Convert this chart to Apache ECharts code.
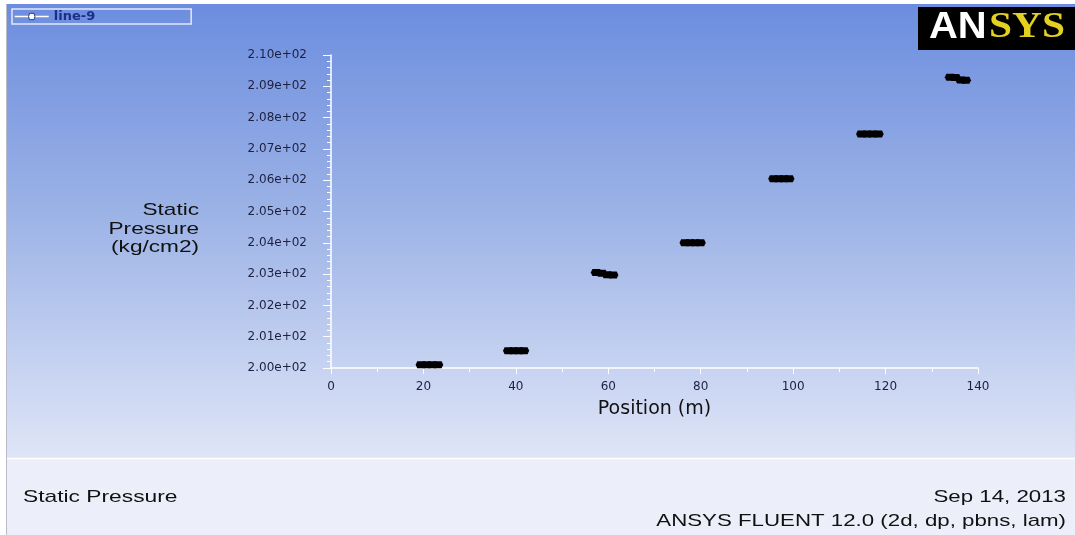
<!DOCTYPE html>
<html>
<head>
<meta charset="utf-8">
<script src="https://cdn.jsdelivr.net/npm/echarts@6/dist/echarts.min.js"></script>
<style>
  html, body { margin: 0; padding: 0; background: #ffffff; }
  #chart { width: 1075px; height: 535px; }
</style>
</head>
<body>
<div id="chart"></div>
<script>
// ---- Data ----
const seriesName = 'line-9';
const positions = [
  19.5, 20.7, 21.9, 23.1,
  38.4, 39.5, 40.6, 41.7,
  57.4, 58.6, 59.8, 61.0,
  76.6, 77.7, 78.8, 79.9,
  95.8, 96.9, 98.0, 99.1,
  114.8, 116.0, 117.2, 118.4,
  134.0, 135.1, 136.3, 137.3
];
const pressures = [
  200.10, 200.10, 200.10, 200.10,
  200.55, 200.55, 200.55, 200.55,
  203.05, 203.03, 202.98, 202.97,
  204.00, 204.00, 204.00, 204.00,
  206.05, 206.05, 206.05, 206.05,
  207.48, 207.48, 207.48, 207.48,
  209.29, 209.28, 209.20, 209.19
];
const xTicks = [0, 20, 40, 60, 80, 100, 120, 140];
const yTicks = [200, 201, 202, 203, 204, 205, 206, 207, 208, 209, 210];
const xTitle = 'Position (m)';
const yTitleLines = ['Static', 'Pressure', '(kg/cm2)'];
const footerLeft = 'Static Pressure';
const footerDate = 'Sep 14, 2013';
const footerVersion = 'ANSYS FLUENT 12.0 (2d, dp, pbns, lam)';

const points = positions.map((x, i) => [x, pressures[i]]);

const chart = echarts.init(document.getElementById('chart'), null, { renderer: 'canvas' });

const labelFont = 'DejaVu Sans';
const txtFont = 'Liberation Sans';
const hexSymbol = 'path://M0,5 L3,0 L17,0 L20,5 L17,10 L3,10 Z';

const option = {
  animation: false,
  backgroundColor: '#ffffff',
  grid: { left: 331, right: 97, top: 55, bottom: 167, containLabel: false },
  legend: {
    left: 12, top: 9,
    padding: [1, 96, 1, 2],
    itemWidth: 34, itemHeight: 8, itemGap: 5,
    borderColor: '#e2e8fa', borderWidth: 1.5,
    textStyle: { color: '#1b2f86', fontFamily: labelFont, fontSize: 13, fontWeight: 'bold' },
    lineStyle: { color: '#ffffff', width: 1.5, opacity: 1 },
    itemStyle: { color: '#ffffff', borderColor: '#203a8a', borderWidth: 1, opacity: 1 },
    data: [{ name: seriesName }]
  },
  xAxis: {
    type: 'value',
    min: xTicks[0], max: xTicks[xTicks.length - 1], interval: 20,
    name: xTitle,
    nameLocation: 'middle',
    nameGap: 32,
    nameTextStyle: { color: '#111111', fontFamily: labelFont, fontSize: 19 },
    axisLine: { show: true, lineStyle: { color: '#ffffff', width: 1.5 } },
    axisTick: { show: true, length: 6, lineStyle: { color: '#ffffff', width: 1 } },
    minorTick: { show: true, splitNumber: 2, length: 4, lineStyle: { color: '#ffffff', width: 1 } },
    axisLabel: { color: '#1e2040', fontFamily: labelFont, fontSize: 12, margin: 13 },
    splitLine: { show: false }
  },
  yAxis: {
    type: 'value',
    min: yTicks[0], max: yTicks[yTicks.length - 1], interval: 1,
    axisLine: { show: true, lineStyle: { color: '#ffffff', width: 1.5 } },
    axisTick: { show: true, length: 8, lineStyle: { color: '#ffffff', width: 1 } },
    minorTick: { show: true, splitNumber: 5, length: 4, lineStyle: { color: '#ffffff', width: 1 } },
    axisLabel: {
      color: '#1e2040', fontFamily: labelFont, fontSize: 12, margin: 24,
      formatter: v => (v / 100).toFixed(2) + 'e+02'
    },
    splitLine: { show: false }
  },
  series: [{
    name: seriesName,
    type: 'line',
    data: points,
    symbol: hexSymbol,
    symbolSize: [11, 7],
    showSymbol: true,
    itemStyle: { color: '#000000' },
    lineStyle: { width: 0, opacity: 0 },
    z: 5
  }],
  graphic: {
    elements: [
      {
        type: 'rect', z: -100, silent: true,
        shape: { x: 6, y: 4, width: 1069, height: 454 },
        style: {
          fill: new echarts.graphic.LinearGradient(0, 0, 0, 1, [
            { offset: 0, color: '#6c8ddf' },
            { offset: 0.45, color: '#9bb2e6' },
            { offset: 1, color: '#dfe5f7' }
          ])
        }
      },
      {
        type: 'rect', z: -100, silent: true,
        shape: { x: 6, y: 459, width: 1069, height: 76 },
        style: { fill: '#eceffa' }
      },
      {
        type: 'line', z: -99, silent: true,
        shape: { x1: 6, y1: 458.5, x2: 1075, y2: 458.5 },
        style: { stroke: '#ffffff', lineWidth: 1.5 }
      },
      {
        type: 'line', z: -99, silent: true,
        shape: { x1: 6.5, y1: 4, x2: 6.5, y2: 535 },
        style: { stroke: '#b9bcc6', lineWidth: 1 }
      },
      {
        type: 'rect', z: 50, silent: true,
        shape: { x: 918, y: 7, width: 157, height: 43 },
        style: { fill: '#000000' }
      },
      {
        type: 'text', z: 51, silent: true,
        x: 929, y: 46, scaleX: 1.08,
        style: { text: 'AN', fill: '#ffffff', font: 'bold 37px "Liberation Sans"', textAlign: 'left', textVerticalAlign: 'bottom' }
      },
      {
        type: 'text', z: 51, silent: true,
        x: 989, y: 46, scaleX: 1.15,
        style: { text: 'SYS', fill: '#e4d020', font: 'bold 36px "Liberation Serif"', textAlign: 'left', textVerticalAlign: 'bottom' }
      },
      {
        type: 'text', z: 20, silent: true,
        x: 199, y: 210, scaleX: 1.33,
        style: { text: yTitleLines[0], fill: '#111111', font: '17px "' + txtFont + '"', textAlign: 'right', textVerticalAlign: 'middle' }
      },
      {
        type: 'text', z: 20, silent: true,
        x: 199, y: 229, scaleX: 1.33,
        style: { text: yTitleLines[1], fill: '#111111', font: '17px "' + txtFont + '"', textAlign: 'right', textVerticalAlign: 'middle' }
      },
      {
        type: 'text', z: 20, silent: true,
        x: 199, y: 247, scaleX: 1.33,
        style: { text: yTitleLines[2], fill: '#111111', font: '17px "' + txtFont + '"', textAlign: 'right', textVerticalAlign: 'middle' }
      },
      {
        type: 'text', z: 20, silent: true,
        x: 23, y: 497, scaleX: 1.34,
        style: { text: footerLeft, fill: '#111111', font: '17px "' + txtFont + '"', textAlign: 'left', textVerticalAlign: 'middle' }
      },
      {
        type: 'text', z: 20, silent: true,
        x: 1066, y: 497, scaleX: 1.31,
        style: { text: footerDate, fill: '#111111', font: '17px "' + txtFont + '"', textAlign: 'right', textVerticalAlign: 'middle' }
      },
      {
        type: 'text', z: 20, silent: true,
        x: 1066, y: 521, scaleX: 1.31,
        style: { text: footerVersion, fill: '#111111', font: '17px "' + txtFont + '"', textAlign: 'right', textVerticalAlign: 'middle' }
      }
    ]
  }
};

chart.setOption(option);
</script>
</body>
</html>
